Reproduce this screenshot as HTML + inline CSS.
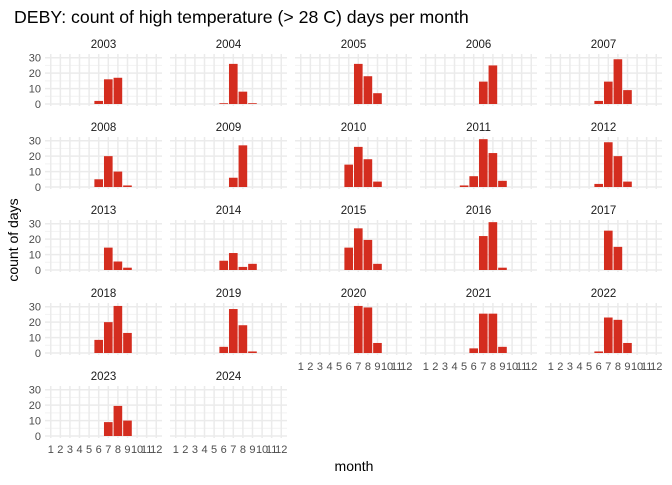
<!DOCTYPE html>
<html><head><meta charset="utf-8"><style>
body{margin:0;background:#fff;font-family:"Liberation Sans",sans-serif;}
</style></head><body>
<svg id="chart" width="672" height="480" xmlns="http://www.w3.org/2000/svg">
<text x="14" y="23" font-size="17.7" fill="#000">DEBY: count of high temperature (&gt; 28 C) days per month</text>
<text transform="translate(18,240) rotate(-90)" text-anchor="middle" font-size="14" fill="#000">count of days</text>
<text x="354" y="471" text-anchor="middle" font-size="14" fill="#000">month</text>
<g id="panels"></g>
</svg>
<script>
const years = [2003,2004,2005,2006,2007,2008,2009,2010,2011,2012,2013,2014,2015,2016,2017,2018,2019,2020,2021,2022,2023,2024];
const months = [1,2,3,4,5,6,7,8,9,10,11,12];
const yTicks = [0,10,20,30];
const counts = {
2003:{6:2,7:16,8:17},
2004:{6:0.5,7:26,8:8,9:0.5},
2005:{7:26,8:18,9:7},
2006:{7:14.5,8:25},
2007:{6:2,7:14.5,8:29,9:9},
2008:{6:5,7:20,8:10,9:1},
2009:{7:6,8:27},
2010:{6:14.5,7:26,8:18,9:3.5},
2011:{5:1,6:7,7:31,8:22,9:4},
2012:{6:2,7:29,8:20,9:3.5},
2013:{7:14.5,8:5.5,9:1.5},
2014:{6:6,7:11,8:2,9:4},
2015:{6:14.5,7:27,8:19.5,9:4},
2016:{7:22,8:31,9:1.5},
2017:{7:25.5,8:15},
2018:{6:8.5,7:20,8:30.5,9:13},
2019:{6:4,7:28.5,8:18,9:1},
2020:{7:30.5,8:29.5,9:6.5},
2021:{6:3,7:25.5,8:25.5,9:4},
2022:{6:1,7:23,8:21.5,9:6.5},
2023:{7:9,8:19.5,9:10},
2024:{}
};
const NS="http://www.w3.org/2000/svg";
const g=document.getElementById('panels');
function mk(t,a,p){const e=document.createElementNS(NS,t);for(const k in a)e.setAttribute(k,a[k]);(p||g).appendChild(e);return e;}
const pw=117, unit=pw/12.2, yScale=1.543;
years.forEach((yr,i)=>{
  const col=i%5,row=Math.floor(i/5);
  const x0=45+col*125, zero=104+row*83, top=zero-50;
  const xs=m=>x0+(m-0.4)*unit;
  const ys=v=>zero-v*yScale;
  const pg=mk('g',{});
  
  
  const st=mk('text',{x:x0+pw/2,y:top-6,'text-anchor':'middle','font-size':'11.5',fill:'#1a1a1a'},pg);
  st.textContent=yr;
  
  
  [5,15,25].forEach(v=>{const l=mk('line',{x1:x0,x2:x0+pw,y1:ys(v),y2:ys(v),stroke:'#f2f2f2','stroke-width':1},pg);
    
    });
  yTicks.forEach(v=>{const l=mk('line',{x1:x0,x2:x0+pw,y1:ys(v),y2:ys(v),stroke:'#ebebeb','stroke-width':1.5},pg);
    
    });
  months.forEach(m=>{const l=mk('line',{x1:xs(m),x2:xs(m),y1:top,y2:zero+2,stroke:'#ebebeb','stroke-width':1.5},pg);
    
    });
  if(col===0){yTicks.forEach(v=>{const t=mk('text',{x:x0-4,y:ys(v)+4,'text-anchor':'end','font-size':'11',fill:'#4d4d4d'},pg);t.textContent=v;
    
    });}
  const d=counts[yr];
  months.forEach(m=>{const v=d[m];if(!v)return;
    const r=mk('rect',{x:xs(m)-0.45*unit,width:0.9*unit,y:ys(v),height:v*yScale,fill:'#d42d1f'},pg);
    
    });
  const bottom = (row===4) || (row===3 && col>=2);
  if(bottom){months.forEach(m=>{const t=mk('text',{x:xs(m),y:zero+17,'text-anchor':'middle','font-size':'11',fill:'#4d4d4d'},pg);t.textContent=m;
    
    });}
});
</script>
</body></html>
